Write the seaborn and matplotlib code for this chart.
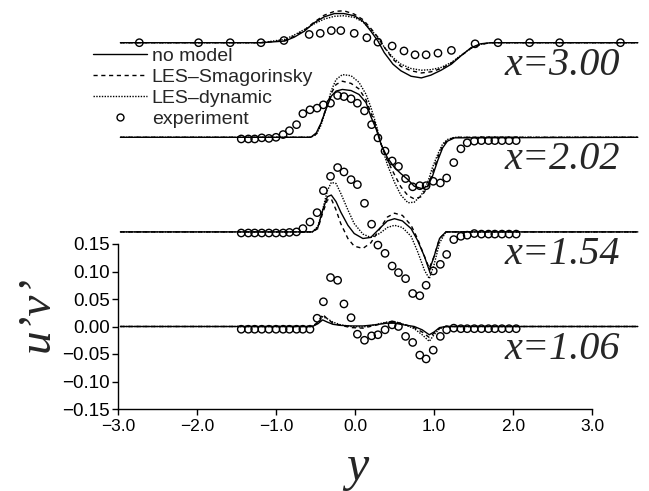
import numpy as np
import pandas as pd
import matplotlib
matplotlib.use('Agg')
import matplotlib.pyplot as plt
from matplotlib.lines import Line2D
import seaborn as sns

# ---------------- data ----------------
PROFILE_NAMES = ["x=1.06", "x=1.54", "x=2.02", "x=3.00"]
OFFSETS = [0.0, 0.172, 0.344, 0.516]

# model grids and values (u'v' relative to each profile's baseline)
GRID_300 = [-2.97, -1.19, -0.89, -0.77, -0.64, -0.52, -0.39, -0.26, -0.14, -0.01, 0.10, 0.20, 0.29,
            0.37, 0.48, 0.58, 0.71, 0.84, 0.96, 1.09, 1.22, 1.34, 1.47, 1.59, 1.72, 3.58]
NOMODEL_300 = [0, 0, 0.003, 0.010, 0.021, 0.036, 0.047, 0.053, 0.053, 0.049, 0.039, 0.021, 0.003,
               -0.018, -0.039, -0.051, -0.061, -0.064, -0.059, -0.050, -0.039, -0.024, -0.009, -0.002, 0, 0]
SMAG_300 = [0, 0, 0.004, 0.012, 0.023, 0.037, 0.050, 0.057, 0.058, 0.052, 0.042, 0.026, 0.010,
            -0.008, -0.030, -0.043, -0.051, -0.055, -0.053, -0.047, -0.037, -0.024, -0.010, -0.003, 0, 0]
DYN_300 = [0, 0, 0.006, 0.014, 0.024, 0.034, 0.043, 0.048, 0.049, 0.046, 0.038, 0.024, 0.009,
           -0.008, -0.027, -0.039, -0.047, -0.050, -0.049, -0.045, -0.036, -0.023, -0.010, -0.003, 0, 0]

GRID_202 = [-2.97, -0.56, -0.49, -0.43, -0.37, -0.30, -0.24, -0.16, -0.05, 0.05, 0.14, 0.20, 0.27, 0.33,
            0.41, 0.50, 0.58, 0.67, 0.75, 0.84, 0.92, 0.98, 1.05, 1.11, 1.17, 1.26, 3.58]
NOMODEL_202 = [0, 0, 0.008, 0.026, 0.050, 0.075, 0.084, 0.087, 0.085, 0.078, 0.063, 0.038, 0.014, -0.013,
               -0.037, -0.055, -0.066, -0.077, -0.089, -0.093, -0.089, -0.071, -0.041, -0.019, -0.007, -0.001, 0]
SMAG_202 = [0, 0, 0.006, 0.025, 0.052, 0.080, 0.096, 0.102, 0.098, 0.088, 0.068, 0.045, 0.018, -0.012,
            -0.042, -0.068, -0.090, -0.106, -0.112, -0.108, -0.090, -0.065, -0.036, -0.015, -0.005, 0, 0]
DYN_202 = [0, 0, 0.005, 0.022, 0.050, 0.085, 0.105, 0.114, 0.112, 0.100, 0.078, 0.055, 0.022, -0.012,
           -0.050, -0.082, -0.105, -0.119, -0.118, -0.105, -0.082, -0.055, -0.030, -0.012, -0.004, 0, 0]

GRID_154 = [-2.97, -0.54, -0.47, -0.41, -0.35, -0.30, -0.24, -0.18, -0.09, -0.01, 0.10, 0.20, 0.31,
            0.41, 0.50, 0.60, 0.71, 0.79, 0.88, 0.94, 1.00, 1.07, 1.15, 3.58]
NOMODEL_154 = [0, 0, 0.008, 0.039, 0.064, 0.067, 0.055, 0.036, 0.012, -0.003, -0.012, -0.010, 0.006,
               0.020, 0.024, 0.020, 0.006, -0.015, -0.045, -0.070, -0.045, -0.012, 0, 0]
SMAG_154 = [0, 0, 0.006, 0.034, 0.058, 0.060, 0.040, 0.015, -0.012, -0.026, -0.030, -0.020, 0.005,
            0.027, 0.034, 0.030, 0.012, -0.012, -0.045, -0.066, -0.045, -0.012, 0, 0]
DYN_154 = [0, 0, 0.010, 0.040, 0.075, 0.090, 0.088, 0.070, 0.040, 0.015, -0.004, -0.010, -0.003,
           0.008, 0.012, 0.008, -0.008, -0.035, -0.070, -0.085, -0.060, -0.020, 0, 0]

GRID_106 = [-2.97, -0.54, -0.47, -0.41, -0.35, -0.28, -0.18, -0.05, 0.10, 0.25, 0.40, 0.50, 0.62,
            0.75, 0.85, 0.94, 1.00, 1.07, 1.15, 3.58]
NOMODEL_106 = [0, 0, 0.005, 0.012, 0.008, 0.004, 0.002, 0.001, 0.001, 0.003, 0.006, 0.006, 0.003,
               0.000, -0.006, -0.015, -0.010, -0.002, 0, 0]
SMAG_106 = [0, 0, 0.008, 0.022, 0.014, 0.006, 0.002, -0.002, -0.003, 0.002, 0.007, 0.008, 0.004,
            -0.002, -0.010, -0.020, -0.012, -0.003, 0, 0]
DYN_106 = [0, 0, 0.007, 0.018, 0.014, 0.008, 0.003, 0.000, -0.001, 0.003, 0.008, 0.009, 0.004,
           -0.004, -0.015, -0.027, -0.015, -0.004, 0, 0]

# experiments
EXP_Y_300 = [-2.73, -1.98, -1.58, -1.19, -0.90, -0.58, -0.44, -0.30, -0.18, -0.01, 0.15, 0.29,
             0.47, 0.62, 0.76, 0.90, 1.05, 1.22, 1.52, 1.81, 2.21, 2.59, 3.36]
EXP_300 = [0, 0, 0, 0, 0.004, 0.015, 0.017, 0.022, 0.022, 0.017, 0.009, 0.001,
           -0.006, -0.015, -0.022, -0.022, -0.019, -0.014, -0.002, 0, 0, 0, 0]

EXP_Y = [-1.44, -1.35, -1.27, -1.18, -1.09, -1.00, -0.91, -0.83, -0.74, -0.66, -0.57, -0.48, -0.40,
         -0.31, -0.22, -0.14, -0.05, 0.03, 0.12, 0.21, 0.29, 0.38, 0.47, 0.55, 0.64, 0.73, 0.82,
         0.90, 0.99, 1.08, 1.16, 1.25, 1.34, 1.42, 1.51, 1.60, 1.69, 1.77, 1.86, 1.95, 2.04]
EXP_202 = [-0.003, -0.003, -0.003, -0.001, -0.002, 0.000, 0.005, 0.012, 0.023, 0.043, 0.050, 0.053, 0.059,
           0.062, 0.076, 0.074, 0.070, 0.062, 0.048, 0.023, -0.001, -0.025, -0.043, -0.053, -0.075, -0.090, -0.088,
           -0.088, -0.080, -0.083, -0.074, -0.046, -0.021, -0.010, -0.007, -0.006, -0.006, -0.006, -0.006, -0.006, -0.006]
EXP_154 = [-0.002, -0.002, -0.002, -0.002, -0.002, -0.002, -0.002, -0.001, 0.000, 0.006, 0.018, 0.035, 0.075,
           0.101, 0.117, 0.109, 0.095, 0.086, 0.052, 0.014, -0.024, -0.039, -0.062, -0.074, -0.085, -0.112, -0.116,
           -0.097, -0.071, -0.059, -0.041, -0.014, -0.008, -0.006, -0.003, -0.004, -0.004, -0.004, -0.004, -0.004, -0.004]
EXP_106 = [-0.005, -0.005, -0.005, -0.005, -0.005, -0.005, -0.005, -0.005, -0.005, -0.005, -0.005, 0.015, 0.045,
           0.089, 0.084, 0.041, 0.016, -0.014, -0.025, -0.017, -0.015, -0.006, 0.003, 0.000, -0.018, -0.029, -0.052,
           -0.059, -0.043, -0.018, -0.006, -0.003, -0.004, -0.004, -0.004, -0.004, -0.004, -0.004, -0.004, -0.004, -0.004]

MODELS = [
    (GRID_106, NOMODEL_106, SMAG_106, DYN_106),
    (GRID_154, NOMODEL_154, SMAG_154, DYN_154),
    (GRID_202, NOMODEL_202, SMAG_202, DYN_202),
    (GRID_300, NOMODEL_300, SMAG_300, DYN_300),
]
EXPS = [(EXP_Y, EXP_106), (EXP_Y, EXP_154), (EXP_Y, EXP_202), (EXP_Y_300, EXP_300)]

LEGEND_LABELS = ["no model", "LES\u2013Smagorinsky", "LES\u2013dynamic", "experiment"]
Y_TICKS = [-0.15, -0.10, -0.05, 0.00, 0.05, 0.10, 0.15]
X_TICKS = [-3.0, -2.0, -1.0, 0.0, 1.0, 2.0, 3.0]

# ---------------- plotting ----------------
sns.set_style("ticks")
plt.rcParams['font.family'] = ['Liberation Sans', 'DejaVu Sans']

W, H = 649, 491
fig = plt.figure(figsize=(W / 100, H / 100), dpi=100)
ax = fig.add_axes([118 / W, (H - 409) / H, 523 / W, 407 / H])

STYLES = ['-', (0, (3.0, 2.6)), (0, (1.0, 1.0))]
LW = 1.0

for (grid, nm, sm, dy), (ey, ev), off, name in zip(MODELS, EXPS, OFFSETS, PROFILE_NAMES):
    for vals, ls in zip((nm, sm, dy), STYLES):
        df = pd.DataFrame({"y": grid, "uv": np.asarray(vals) + off})
        sns.lineplot(data=df, x="y", y="uv", ax=ax, color="black", linewidth=LW,
                     linestyle=ls, estimator=None, sort=False, legend=False)
    de = pd.DataFrame({"y": ey, "uv": np.asarray(ev) + off})
    sns.scatterplot(data=de, x="y", y="uv", ax=ax, marker="o", s=28,
                    facecolors="none", edgecolor="black", linewidth=1.0, legend=False, zorder=3)
    ax.text(1.89, off - 0.041, name, ha="left", va="center", fontsize=29,
            family="Liberation Serif", style="italic")

ax.set_xlim(-3.0, 3.62)
ax.set_ylim(-0.15, 0.59)
ax.set_xticks(X_TICKS)
ax.set_yticks(Y_TICKS)
ax.set_xticklabels([f"{v:.1f}".replace("-", "\u2212") for v in X_TICKS])
ax.set_yticklabels([f"{v:.2f}".replace("-", "\u2212") for v in Y_TICKS])
ax.set_xlabel("")
ax.set_ylabel("")
for s in ("top", "right"):
    ax.spines[s].set_visible(False)
ax.spines["left"].set_bounds(-0.15, 0.15)
ax.spines["bottom"].set_bounds(-3.0, 3.0)
for s in ("left", "bottom"):
    ax.spines[s].set_linewidth(1.0)
    ax.spines[s].set_color("black")
ax.tick_params(axis="y", direction="out", length=4, width=1.0, pad=2, labelsize=13.5, colors="black")
ax.tick_params(axis="x", direction="out", length=4, width=1.0, pad=3, labelsize=12.5, colors="black")

fig.text(37 / W, 1 - 314 / H, "u\u2019v\u2019", rotation=90, ha="center", va="center",
         fontsize=34, family="Liberation Serif", style="italic")
fig.text(357 / W, 1 - 468 / H, "y", ha="center", va="center",
         fontsize=36, family="Liberation Serif", style="italic")

handles = [Line2D([], [], color="black", lw=LW, ls=STYLES[0]),
           Line2D([], [], color="black", lw=LW, ls=STYLES[1]),
           Line2D([], [], color="black", lw=LW, ls=STYLES[2]),
           Line2D([], [], color="black", lw=0, marker="o", markerfacecolor="none",
                  markeredgecolor="black", markersize=5, markeredgewidth=1.0)]
fig.legend(handles, LEGEND_LABELS, loc="upper left", bbox_to_anchor=(93 / W, 1 - 47 / H),
           frameon=False, fontsize=14, handlelength=2.8, handletextpad=0.22,
           labelspacing=0.18, borderpad=0, borderaxespad=0)

fig.savefig("out.png", dpi=100)
